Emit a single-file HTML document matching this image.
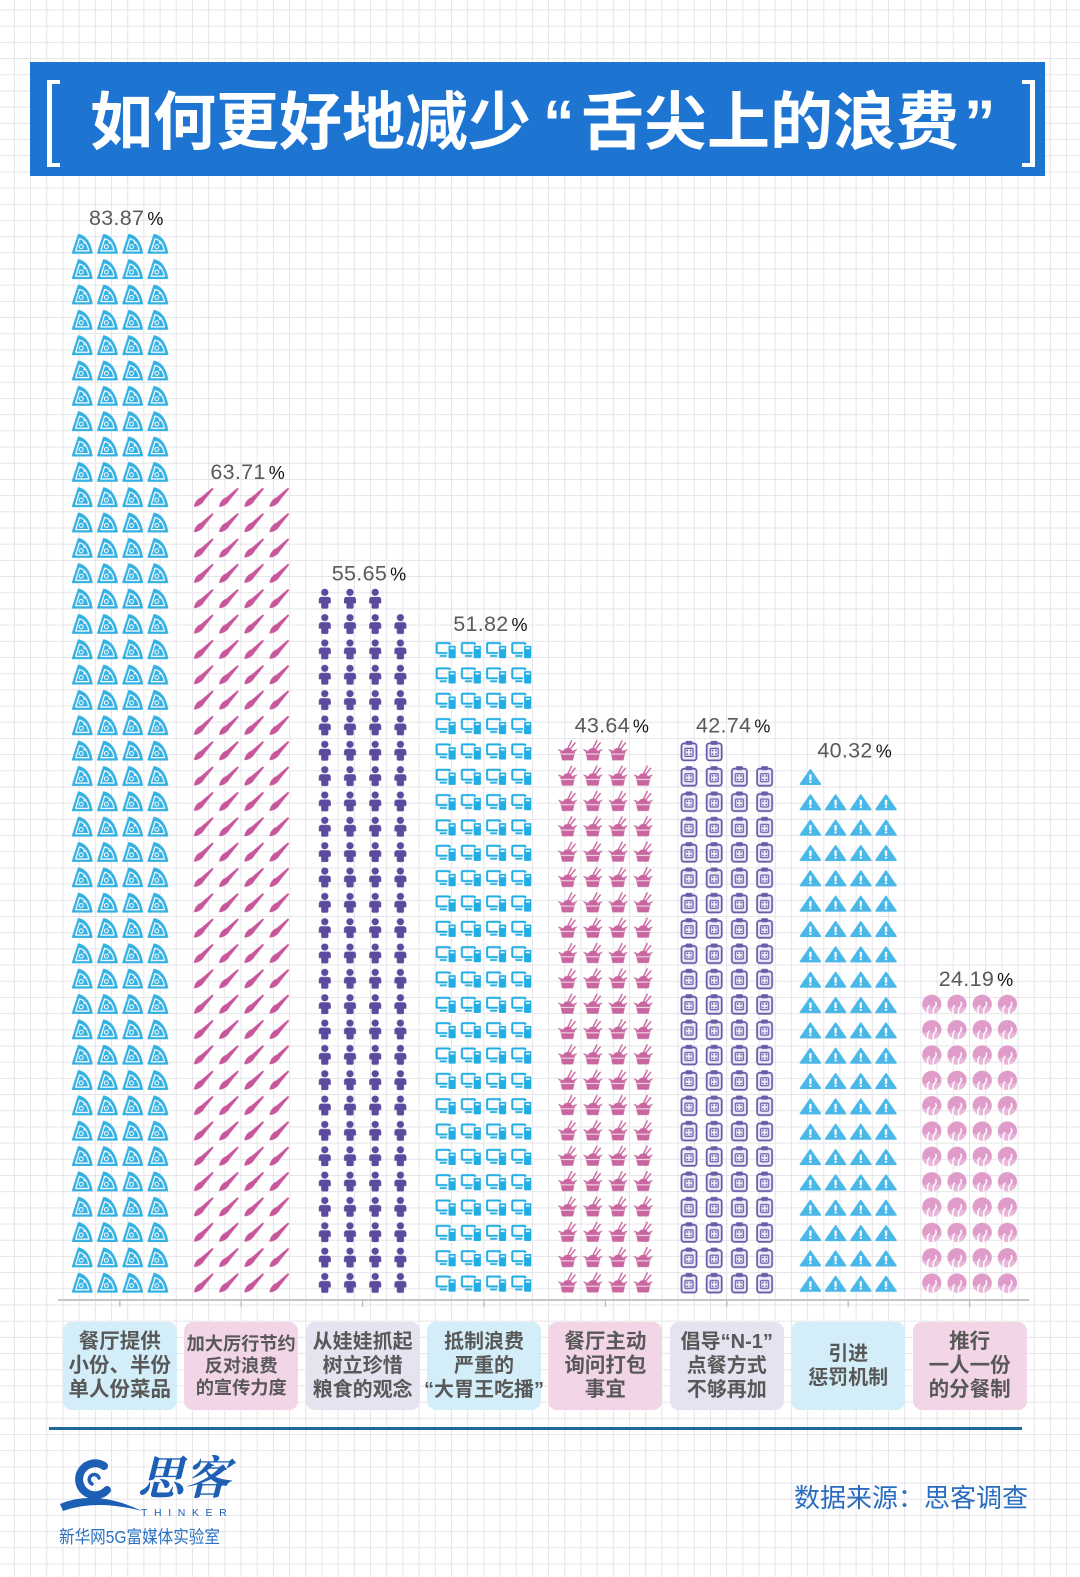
<!DOCTYPE html>
<html><head><meta charset="utf-8">
<style>
html,body{margin:0;padding:0;}
body{width:1080px;height:1577px;position:relative;overflow:hidden;background-color:#fff;
background-image:linear-gradient(to right,#e5e5e9 1px,transparent 1px),linear-gradient(to bottom,#e5e5e9 1px,transparent 1px);
background-size:16.2px 16.2px;background-position:13.9px 9.5px;
font-family:"Liberation Sans","Noto Sans CJK SC",sans-serif;}
.abs{position:absolute;}
.banner{left:30px;top:62px;width:1015px;height:114px;background:#1d74d1;}
.t{position:absolute;top:91.5px;height:63px;line-height:63px;font-size:63px;font-weight:700;color:#fff;white-space:nowrap;font-family:"Liberation Sans","Noto Sans CJK SC",sans-serif;}
.br{position:absolute;background:#fff;}
.box{position:absolute;top:1322px;width:114px;height:88px;border-radius:9px;display:flex;flex-direction:column;align-items:center;justify-content:center;
font-weight:700;color:#585858;font-size:20.5px;line-height:24px;white-space:nowrap;font-family:"Liberation Sans","Noto Sans CJK SC",sans-serif;}
.bl{background:#d4eef9;}
.pk{background:#f2d5e7;}
.lv{background:#e5e3f0;}
</style></head>
<body>
<div class="abs banner"></div>
<!-- brackets -->
<div class="br" style="left:47px;top:80px;width:5px;height:87px;"></div>
<div class="br" style="left:47px;top:80px;width:13px;height:4px;"></div>
<div class="br" style="left:47px;top:163px;width:13px;height:4px;"></div>
<div class="br" style="left:1030px;top:80px;width:5px;height:87px;"></div>
<div class="br" style="left:1022px;top:80px;width:13px;height:4px;"></div>
<div class="br" style="left:1022px;top:163px;width:13px;height:4px;"></div>
<!-- title -->
<div class="t" style="left:90px;">如何更好地减少</div>
<div class="t" style="left:543px;">“</div>
<div class="t" style="left:581px;">舌尖上的浪费</div>
<div class="t" style="left:964px;">”</div>

<svg class="abs" style="left:0;top:0;" width="1080" height="1577" viewBox="0 0 1080 1577" xmlns="http://www.w3.org/2000/svg">
<defs>
  <g id="pz">
    <path d="M-9.5,9 L-3.5,-9.5 Q7,-7.5 10,9 Z" fill="#34b1e2" stroke="#34b1e2" stroke-width="1.4" stroke-linejoin="round"/>
    <path d="M-6.3,6.8 L-2.6,-5.3 Q4.8,-3.8 6.8,6.8 Z" fill="none" stroke="#fff" stroke-width="1.2" stroke-linejoin="round"/>
    <circle cx="-0.8" cy="2.6" r="2" fill="none" stroke="#fff" stroke-width="1"/>
    <circle cx="2.3" cy="-1.2" r="1" fill="#fff"/>
  </g>
  <g id="br">
    <path d="M-9.5,9.5 C-9,4.5 -6,1.2 -2.6,0 L9,-9.8 L10.2,-8.6 L1.2,2.6 C-1,6.6 -4.5,9 -9.5,9.5 Z" fill="#c8569c"/>
  </g>
  <g id="ps" fill="#5b4a9d">
    <circle cx="0" cy="-6.5" r="3.6"/>
    <path d="M-6,4.5 V0.8 Q-6,-2 -3,-2 H3 Q6,-2 6,0.8 V4.5 Z"/>
    <rect x="-3.6" y="3" width="7.2" height="6.8" rx="1.6"/>
  </g>
  <g id="pc">
    <rect x="-9.5" y="-6.5" width="13" height="10" rx="1" fill="none" stroke="#20ade3" stroke-width="2"/>
    <rect x="-6.5" y="5.5" width="7" height="1.9" fill="#20ade3"/>
    <rect x="1.8" y="-4.2" width="8.2" height="13.4" rx="1.2" fill="#20ade3" stroke="#fff" stroke-width="1"/>
    <rect x="4" y="-2" width="4" height="1.6" fill="#fff"/>
  </g>
  <g id="nb" fill="#c9659f">
    <path d="M-7.5,0.5 L7.5,0.5 L5.5,9.5 L-5.5,9.5 Z"/>
    <path d="M-10,-2 L-3,0.5 L-8,0.5 Z"/>
    <path d="M10,-2 L3,0.5 L8,0.5 Z"/>
    <path d="M-5,0.8 Q-3,-3.5 0,-2.5 Q3,-4 5,0.8 Z"/>
    <rect x="-6.6" y="2.6" width="13.2" height="1.2" fill="#fff" opacity="0.7"/>
    <path d="M-0.5,-1 L4,-10 M2,-1 L7.5,-8" stroke="#c9659f" stroke-width="1.4" stroke-linecap="round"/>
  </g>
  <g id="cb">
    <rect x="-7.5" y="-7.5" width="15" height="17" rx="2.5" fill="#eeeaf6" stroke="#6b5caa" stroke-width="1.8"/>
    <rect x="-3.5" y="-10" width="7" height="4" rx="1.2" fill="#6b5caa"/>
    <rect x="-4" y="-2.5" width="8" height="8" rx="1" fill="none" stroke="#6b5caa" stroke-width="1.2"/>
    <circle cx="-1.7" cy="-0.3" r="0.9" fill="#6b5caa"/><circle cx="1.7" cy="-0.3" r="0.9" fill="#6b5caa"/>
    <circle cx="-1.7" cy="3.2" r="0.9" fill="#6b5caa"/><circle cx="1.7" cy="3.2" r="0.9" fill="#6b5caa"/>
  </g>
  <g id="tr">
    <path d="M0,-6.5 L10,8 L-10,8 Z" fill="#49b7e7" stroke="#49b7e7" stroke-width="1.6" stroke-linejoin="round"/>
    <rect x="-1.1" y="-1.8" width="2.2" height="5.6" fill="#fff"/>
    <circle cx="0" cy="5.6" r="1.15" fill="#fff"/>
  </g>
  <g id="cc">
    <circle r="9.6" fill="#df9cc9"/>
    <path d="M-9.2,3 A9.6,9.6 0 0 0 9.2,3 Z" fill="#e8b5d8"/>
    <path d="M-4,9 Q-5,4 -2.5,1.5 M1.5,9 Q1,4.5 3.5,2 Q5,0.5 4,-2" fill="none" stroke="#fff" stroke-width="1.5" stroke-linecap="round"/>
  </g>
  <pattern id="p0" patternUnits="userSpaceOnUse" x="69.4" y="231.39" width="25.2" height="25.34"><use href="#pz" x="12.6" y="12.67"/></pattern>
  <pattern id="p1" patternUnits="userSpaceOnUse" x="190.8" y="484.79" width="25.2" height="25.34"><use href="#br" x="12.6" y="12.67"/></pattern>
  <pattern id="p2" patternUnits="userSpaceOnUse" x="312.2" y="611.49" width="25.2" height="25.34"><use href="#ps" x="12.6" y="12.67"/></pattern>
  <pattern id="p3" patternUnits="userSpaceOnUse" x="433.6" y="636.83" width="25.2" height="25.34"><use href="#pc" x="12.6" y="12.67"/></pattern>
  <pattern id="p4" patternUnits="userSpaceOnUse" x="555" y="763.53" width="25.2" height="25.34"><use href="#nb" x="12.6" y="12.67"/></pattern>
  <pattern id="p5" patternUnits="userSpaceOnUse" x="676.4" y="763.53" width="25.2" height="25.34"><use href="#cb" x="12.6" y="12.67"/></pattern>
  <pattern id="p6" patternUnits="userSpaceOnUse" x="797.8" y="788.87" width="25.2" height="25.34"><use href="#tr" x="12.6" y="12.67"/></pattern>
  <pattern id="p7" patternUnits="userSpaceOnUse" x="919.2" y="991.59" width="25.2" height="25.34"><use href="#cc" x="12.6" y="12.67"/></pattern>
</defs>

<rect x="69.4" y="231.39" width="100.8" height="1064.28" fill="url(#p0)"/>
<rect x="190.8" y="484.79" width="100.8" height="810.88" fill="url(#p1)"/>
<rect x="312.2" y="611.49" width="100.8" height="684.18" fill="url(#p2)"/>
<rect x="433.6" y="636.83" width="100.8" height="658.84" fill="url(#p3)"/>
<rect x="555" y="763.53" width="100.8" height="532.14" fill="url(#p4)"/>
<rect x="676.4" y="763.53" width="100.8" height="532.14" fill="url(#p5)"/>
<rect x="797.8" y="788.87" width="100.8" height="506.8" fill="url(#p6)"/>
<rect x="919.2" y="991.59" width="100.8" height="304.08" fill="url(#p7)"/>

<!-- partial top rows -->
<use href="#ps" x="324.8" y="598.82"/><use href="#ps" x="350" y="598.82"/><use href="#ps" x="375.2" y="598.82"/>
<use href="#nb" x="567.6" y="750.86"/><use href="#nb" x="592.8" y="750.86"/><use href="#nb" x="618" y="750.86"/>
<use href="#cb" x="689" y="750.86"/><use href="#cb" x="714.2" y="750.86"/>
<use href="#tr" x="810.4" y="776.2"/>

<!-- value labels -->
<g font-family="Liberation Sans, sans-serif" font-size="21.5" fill="#5a5a5a" letter-spacing="0.3">
  <text x="89" y="225">83.87<tspan font-size="18" fill="#111" dx="3">%</tspan></text>
  <text x="210.4" y="479">63.71<tspan font-size="18" fill="#111" dx="3">%</tspan></text>
  <text x="331.8" y="580.3">55.65<tspan font-size="18" fill="#111" dx="3">%</tspan></text>
  <text x="453.2" y="631">51.82<tspan font-size="18" fill="#111" dx="3">%</tspan></text>
  <text x="574.6" y="732.4">43.64<tspan font-size="18" fill="#111" dx="3">%</tspan></text>
  <text x="696" y="732.4">42.74<tspan font-size="18" fill="#111" dx="3">%</tspan></text>
  <text x="817.4" y="757.7">40.32<tspan font-size="18" fill="#111" dx="3">%</tspan></text>
  <text x="938.8" y="985.8">24.19<tspan font-size="18" fill="#111" dx="3">%</tspan></text>
</g>

<!-- axis -->
<line x1="58" y1="1300" x2="1029" y2="1300" stroke="#c6c6c6" stroke-width="2"/>
<g stroke="#bbbbbb" stroke-width="1.3">
  <line x1="119.8" y1="1300" x2="119.8" y2="1307"/>
  <line x1="241.2" y1="1300" x2="241.2" y2="1307"/>
  <line x1="362.6" y1="1300" x2="362.6" y2="1307"/>
  <line x1="484" y1="1300" x2="484" y2="1307"/>
  <line x1="605.4" y1="1300" x2="605.4" y2="1307"/>
  <line x1="726.8" y1="1300" x2="726.8" y2="1307"/>
  <line x1="848.2" y1="1300" x2="848.2" y2="1307"/>
  <line x1="969.6" y1="1300" x2="969.6" y2="1307"/>
</g>

<!-- logo swirl -->
<g fill="none" stroke="#1c5fb5" stroke-linecap="round">
  <path d="M104,1466 A16,16 0 1 0 107,1490" stroke-width="8"/>
  <path d="M92,1484 A5,5 0 1 1 99,1478" stroke-width="3.5"/>
</g>
<path d="M60,1504 Q96,1489 142,1511 Q96,1499 63,1511 Z" fill="#1c5fb5"/>
</svg>

<!-- category boxes -->
<div class="box bl" style="left:62.8px;"><div>餐厅提供</div><div>小份、半份</div><div>单人份菜品</div></div>
<div class="box pk" style="left:184.2px;font-size:18.2px;line-height:22px;"><div>加大厉行节约</div><div>反对浪费</div><div>的宣传力度</div></div>
<div class="box lv" style="left:305.6px;font-size:20px;"><div>从娃娃抓起</div><div>树立珍惜</div><div>粮食的观念</div></div>
<div class="box bl" style="left:427px;font-size:20px;"><div>抵制浪费</div><div>严重的</div><div>“大胃王吃播”</div></div>
<div class="box pk" style="left:548.4px;"><div>餐厅主动</div><div>询问打包</div><div>事宜</div></div>
<div class="box lv" style="left:669.8px;font-size:20px;"><div>倡导“N-1”</div><div>点餐方式</div><div>不够再加</div></div>
<div class="box bl" style="left:791.2px;font-size:20px;"><div>引进</div><div>惩罚机制</div></div>
<div class="box pk" style="left:912.6px;"><div>推行</div><div>一人一份</div><div>的分餐制</div></div>

<!-- separator -->
<div class="abs" style="left:49px;top:1427px;width:973px;height:3px;background:#1e6a9d;"></div>

<!-- footer -->
<div class="abs" style="left:138px;top:1455px;font-size:46px;line-height:48px;color:#1c5fb5;font-weight:700;font-family:'Liberation Serif','Noto Serif CJK SC',serif;font-style:italic;white-space:nowrap;">思客</div>
<div class="abs" style="left:141px;top:1507px;font-size:10.5px;line-height:12px;letter-spacing:6.6px;color:#1c5fb5;font-family:'Liberation Sans',sans-serif;white-space:nowrap;">THINKER</div>
<div class="abs" style="left:59px;top:1527px;font-size:17.5px;line-height:20px;color:#2870c4;white-space:nowrap;transform:scaleX(0.89);transform-origin:left top;font-family:'Liberation Sans','Noto Sans CJK SC',sans-serif;">新华网5G富媒体实验室</div>
<div class="abs" style="left:794px;top:1485px;font-size:26px;line-height:26px;color:#2a6dbf;white-space:nowrap;font-family:'Liberation Sans','Noto Sans CJK SC',sans-serif;">数据来源：思客调查</div>
</body></html>
